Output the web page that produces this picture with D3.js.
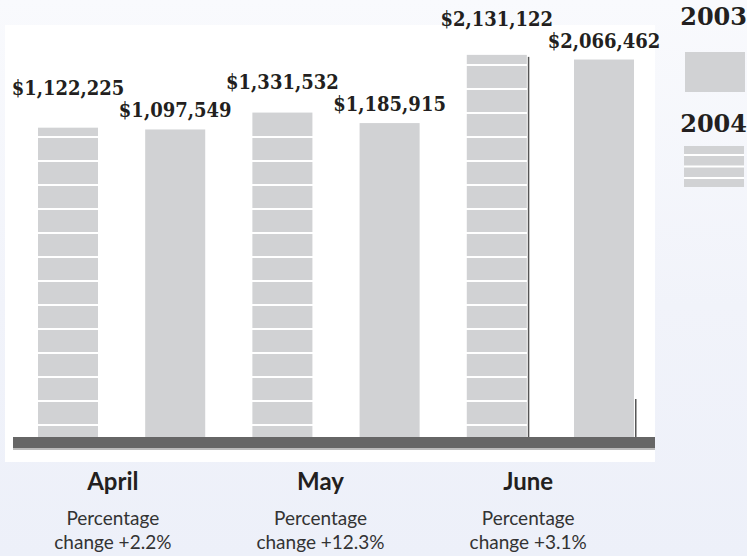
<!DOCTYPE html>
<html>
<head>
<meta charset="utf-8">
<script src="https://cdn.jsdelivr.net/npm/d3@7"></script>
<style>
  html, body { margin: 0; padding: 0; background: #eef1f9; }
  svg { display: block; }
</style>
</head>
<body>
<div id="chart"></div>
<script>
// Monthly totals, 2004 vs 2003
const months = ["April", "May", "June"];
const seriesKeys = ["2004", "2003"];
const values2004 = [1122225, 1331532, 2131122];
const values2003 = [1097549, 1185915, 2066462];
const changeLabels = ["+2.2%", "+12.3%", "+3.1%"];
const legendLabels = ["2003", "2004"];

const W = 747, H = 556;
const baseY = 437;

const data = months.map((m, i) => ({
    month: m,
    bars: [
        { key: "2004", value: values2004[i] },
        { key: "2003", value: values2003[i] }
    ],
    change: changeLabels[i]
}));

const svg = d3.select("#chart").append("svg")
    .attr("width", W)
    .attr("height", H);

// background
const defs = svg.append("defs");
const grad = defs.append("linearGradient")
    .attr("id", "bg").attr("x1", 0).attr("y1", 0).attr("x2", 0).attr("y2", 1);
grad.append("stop").attr("offset", "0%").attr("stop-color", "#f9fafd");
grad.append("stop").attr("offset", "55%").attr("stop-color", "#f1f3fa");
grad.append("stop").attr("offset", "100%").attr("stop-color", "#edf0f9");

svg.append("rect").attr("width", W).attr("height", H).attr("fill", "url(#bg)");

// white plot panel
svg.append("rect")
    .attr("x", 5).attr("y", 25)
    .attr("width", 650).attr("height", 437)
    .attr("fill", "#ffffff");

// scales
const x0 = d3.scaleBand()
    .domain(months)
    .range([14.4, 657.6]);

const x1 = d3.scaleBand()
    .domain(seriesKeys)
    .range([0, x0.bandwidth()])
    .paddingInner(0.44)
    .paddingOuter(0.22);

// month captions sit a little left of the bar groups
const xLabel = d3.scaleBand()
    .domain(months)
    .range([9, 632]);

// the original is not drawn from zero, so the scale starts at $1M below the bars
const y = d3.scaleLinear()
    .domain([1000000, 2200000])
    .range([136.5, 49.9]);

// bars
const groups = svg.selectAll(".month")
    .data(data)
    .enter()
    .append("g")
    .attr("class", "month")
    .attr("transform", d => `translate(${x0(d.month)},0)`);

groups.selectAll(".bar")
    .data(d => d.bars)
    .enter()
    .append("rect")
    .attr("class", "bar")
    .attr("x", d => x1(d.key))
    .attr("y", d => y(d.value))
    .attr("width", x1.bandwidth())
    .attr("height", d => baseY - y(d.value))
    .attr("fill", "#d1d2d4");

// white stripes on the 2004 bars
groups.each(function(d) {
    const g = d3.select(this);
    const b = d.bars[0];
    const top = y(b.value);
    const lines = d3.range(baseY - 13, top + 6, -24);
    g.selectAll(".stripe")
        .data(lines)
        .enter()
        .append("rect")
        .attr("class", "stripe")
        .attr("x", x1(b.key) - 1)
        .attr("y", v => v)
        .attr("width", x1.bandwidth() + 2)
        .attr("height", 2)
        .attr("fill", "#ffffff");
});

// dark edge on the June bars (as in the original artwork)
const june = groups.filter(d => d.month === "June");
june.append("rect")
    .attr("x", x1("2004") + x1.bandwidth() + 1)
    .attr("y", d => y(d.bars[0].value) + 2)
    .attr("width", 1.5)
    .attr("height", d => baseY - y(d.bars[0].value) - 2)
    .attr("fill", "#555");
june.append("rect")
    .attr("x", x1("2003") + x1.bandwidth() + 1)
    .attr("y", baseY - 38)
    .attr("width", 1.5)
    .attr("height", 38)
    .attr("fill", "#555");

// baseline bar
svg.append("rect")
    .attr("x", 13).attr("y", baseY + 1)
    .attr("width", 642).attr("height", 3)
    .attr("fill", "#999");
svg.append("rect")
    .attr("x", 13).attr("y", baseY)
    .attr("width", 642).attr("height", 11)
    .attr("fill", "#666");
svg.append("rect")
    .attr("x", 13).attr("y", baseY + 11)
    .attr("width", 642).attr("height", 2)
    .attr("fill", "#bbb");

// value labels, taller bar raised if the two collide
const fmt = d3.format("$,");
groups.each(function(d) {
    const g = d3.select(this);
    const ly = d.bars.map(b => y(b.value) - 12);
    const hi = d.bars[0].value >= d.bars[1].value ? 0 : 1;
    const lo = 1 - hi;
    if (ly[lo] - ly[hi] < 22) ly[hi] = ly[lo] - 22;
    g.selectAll(".val")
        .data(d.bars)
        .enter()
        .append("text")
        .attr("class", "val")
        .attr("x", b => x1(b.key) + x1.bandwidth() / 2)
        .attr("y", (b, i) => ly[i])
        .attr("text-anchor", "middle")
        .attr("font-family", "'DejaVu Serif Condensed', 'DejaVu Serif'")
        .attr("font-stretch", "condensed")
        .attr("font-weight", "bold")
        .attr("font-size", 20)
        .attr("fill", "#231f20")
        .text(b => fmt(b.value));
});

// month labels
const lab = svg.selectAll(".mlabel")
    .data(data)
    .enter()
    .append("g")
    .attr("class", "mlabel")
    .attr("transform", d => `translate(${xLabel(d.month) + xLabel.bandwidth() / 2},0)`)
    .attr("text-anchor", "middle")
    .attr("font-family", "Lato");

lab.append("text")
    .attr("y", 490)
    .attr("font-size", 24)
    .attr("font-weight", "bold")
    .attr("fill", "#231f20")
    .text(d => d.month);

lab.append("text")
    .attr("y", 525)
    .attr("font-size", 19)
    .attr("fill", "#333")
    .text("Percentage");

lab.append("text")
    .attr("y", 549)
    .attr("font-size", 19)
    .attr("fill", "#333")
    .text(d => "change " + d.change);

// legend
const legend = svg.append("g").attr("font-family", "DejaVu Serif").attr("font-weight", "bold");

legend.append("text")
    .attr("x", 747).attr("y", 25)
    .attr("text-anchor", "end")
    .attr("font-size", 24)
    .attr("fill", "#231f20")
    .text(legendLabels[0]);

legend.append("rect")
    .attr("x", 685).attr("y", 52)
    .attr("width", 60).attr("height", 40)
    .attr("fill", "#d1d2d4");

legend.append("text")
    .attr("x", 747).attr("y", 132)
    .attr("text-anchor", "end")
    .attr("font-size", 24)
    .attr("fill", "#231f20")
    .text(legendLabels[1]);

legend.append("rect")
    .attr("x", 684).attr("y", 146)
    .attr("width", 60).attr("height", 41)
    .attr("fill", "#d1d2d4");

legend.selectAll(".lstripe")
    .data(d3.range(154, 184, 11.5))
    .enter()
    .append("rect")
    .attr("class", "lstripe")
    .attr("x", 684).attr("y", v => v)
    .attr("width", 60).attr("height", 2)
    .attr("fill", "#ffffff");
</script>
</body>
</html>
